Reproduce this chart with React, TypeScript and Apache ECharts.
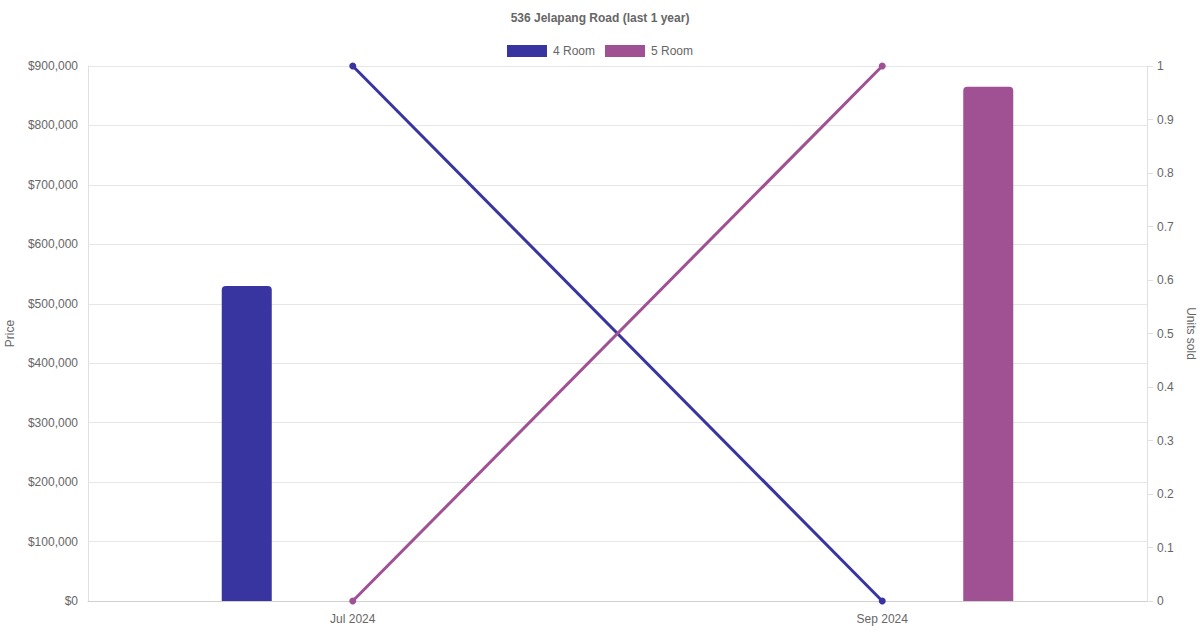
import React from "react";
import * as echarts from "echarts";

const months = ["Jul 2024", "Sep 2024"];
const priceTicks = [0, 100000, 200000, 300000, 400000, 500000, 600000, 700000, 800000, 900000];
const price4Room = [530000, null];
const price5Room = [null, 865000];
const units4Room = [1, 0];
const units5Room = [0, 1];

const C4 = "#3935a0";
const C5 = "#a05193";
const FONT = "'Liberation Sans', Arial, sans-serif";

const fmtPrice = (v: number) => "$" + v.toLocaleString("en-US");

export default function App() {
  const ref = React.useRef<HTMLDivElement>(null);

  React.useEffect(() => {
    if (!ref.current) return;
    const chart = echarts.init(ref.current, null, { renderer: "svg" });

    const option: any = {
      animation: false,
      backgroundColor: "#fff",
      textStyle: { fontFamily: FONT, color: "#666" },
      title: {
        text: "536 Jelapang Road (last 1 year)",
        left: "center",
        top: 7,
        textStyle: { fontSize: 12, fontWeight: "bold", color: "#666", fontFamily: FONT },
      },
      legend: {
        top: 40,
        left: "center",
        icon: "rect",
        itemWidth: 40,
        itemHeight: 12,
        itemGap: 10,
        textStyle: { fontSize: 12, color: "#666", fontFamily: FONT, padding: [0, 0, 0, 1] },
        data: [
          { name: "4 Room", itemStyle: { color: C4 } },
          { name: "5 Room", itemStyle: { color: C5 } },
        ],
      },
      grid: { left: 88, right: 53, top: 66, bottom: 29, outerBoundsMode: "none", containLabel: false },
      xAxis: {
        type: "category",
        data: months,
        boundaryGap: true,
        axisLine: { show: true, lineStyle: { color: "#d0d0d0" } },
        axisTick: { show: false },
        axisLabel: { color: "#666", fontSize: 12, margin: 12 },
        splitLine: { show: false },
      },
      yAxis: [
        {
          type: "value",
          name: "Price",
          nameLocation: "middle",
          nameGap: 72,
          nameTextStyle: { color: "#666", fontSize: 12 },
          min: 0,
          max: priceTicks[priceTicks.length - 1],
          interval: 100000,
          axisLine: { show: true, lineStyle: { color: "#e0e0e0" } },
          axisTick: { show: false },
          axisLabel: { color: "#666", fontSize: 12, margin: 10, formatter: (v: number) => fmtPrice(v) },
          splitLine: { show: true, lineStyle: { color: "#e6e6e6" } },
        },
        {
          type: "value",
          name: "Units sold",
          nameLocation: "middle",
          nameRotate: -90,
          nameGap: 34,
          nameTextStyle: { color: "#666", fontSize: 12 },
          position: "right",
          min: 0,
          max: 1,
          interval: 0.1,
          axisLine: { show: true, lineStyle: { color: "#e0e0e0" } },
          axisTick: { show: true, length: 6, lineStyle: { color: "#e0e0e0" } },
          axisLabel: {
            color: "#666",
            fontSize: 12,
            margin: 10,
            formatter: (v: number) => String(Math.round(v * 10) / 10),
          },
          splitLine: { show: false },
        },
      ],
      series: [
        {
          name: "4 Room",
          type: "bar",
          yAxisIndex: 0,
          data: price4Room,
          barWidth: 50,
          barGap: "324%",
          itemStyle: { color: C4, borderRadius: [4, 4, 0, 0] },
          z: 1,
        },
        {
          name: "5 Room",
          type: "bar",
          yAxisIndex: 0,
          data: price5Room,
          barWidth: 50,
          barGap: "324%",
          itemStyle: { color: C5, borderRadius: [4, 4, 0, 0] },
          z: 1,
        },
        {
          name: "4 Room",
          type: "line",
          yAxisIndex: 1,
          data: units4Room,
          symbol: "circle",
          symbolSize: 7,
          showAllSymbol: true,
          lineStyle: { color: C4, width: 3 },
          itemStyle: { color: C4 },
          z: 3,
        },
        {
          name: "5 Room",
          type: "line",
          yAxisIndex: 1,
          data: units5Room,
          symbol: "circle",
          symbolSize: 7,
          showAllSymbol: true,
          lineStyle: { color: C5, width: 3 },
          itemStyle: { color: C5 },
          z: 3,
        },
      ],
    };

    chart.setOption(option);
    const onResize = () => chart.resize();
    window.addEventListener("resize", onResize);
    return () => {
      window.removeEventListener("resize", onResize);
      chart.dispose();
    };
  }, []);

  return <div ref={ref} style={{ width: 1200, height: 630, position: "absolute", left: 0, top: 0 }} />;
}
